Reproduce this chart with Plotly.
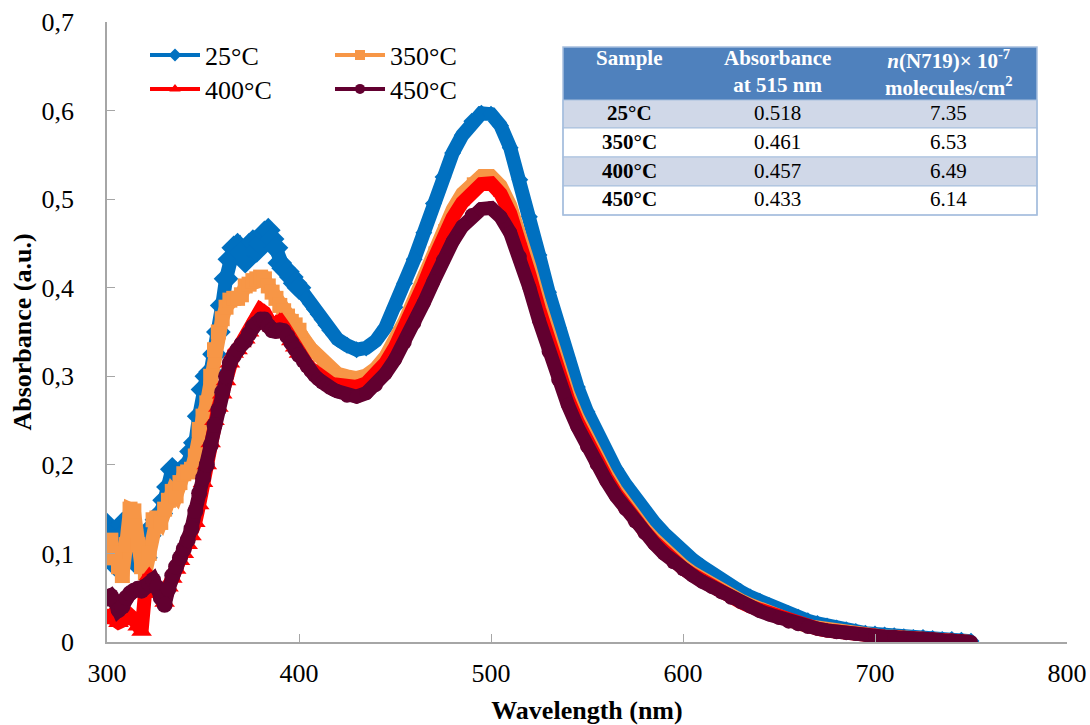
import plotly.graph_objects as go

# Wavelength grid (nm): 2 nm steps through the noisy UV region, 5 nm afterwards
wavelength = list(range(300, 421, 2)) + list(range(425, 751, 5))

abs_25 = [
    0.132, 0.122, 0.088, 0.118, 0.133, 0.125, 0.100, 0.092, 0.100, 0.110,
    0.095, 0.120, 0.130, 0.138, 0.145, 0.160, 0.175, 0.195, 0.190, 0.188,
    0.195, 0.200, 0.215, 0.225, 0.255, 0.285, 0.300, 0.305, 0.325, 0.350,
    0.380, 0.410, 0.432, 0.445, 0.448, 0.440, 0.430, 0.448, 0.452, 0.442,
    0.450, 0.462, 0.465, 0.455, 0.445, 0.428, 0.422, 0.418, 0.412, 0.405,
    0.400, 0.394, 0.388, 0.382, 0.376, 0.370, 0.364, 0.358, 0.352, 0.347,
    0.342,
    0.335, 0.330, 0.332, 0.340, 0.355, 0.378, 0.405, 0.432, 0.462, 0.495,
    0.525, 0.552, 0.572, 0.588, 0.597,
    0.596, 0.583, 0.558, 0.522, 0.480, 0.437, 0.395, 0.355, 0.320, 0.288,
    0.260, 0.236, 0.214, 0.195, 0.178, 0.162, 0.148, 0.135, 0.123, 0.112,
    0.102, 0.093, 0.085, 0.077, 0.070, 0.063, 0.057, 0.051, 0.046, 0.041,
    0.036, 0.032, 0.028, 0.024, 0.021, 0.018, 0.016, 0.014, 0.012, 0.010,
    0.009, 0.008, 0.007, 0.006, 0.005, 0.005, 0.004, 0.003, 0.003, 0.002,
    0.001,
]

abs_350 = [
    0.095, 0.115, 0.100, 0.085, 0.075, 0.110, 0.150, 0.148, 0.110, 0.085,
    0.078, 0.100, 0.138, 0.140, 0.135, 0.150, 0.160, 0.170, 0.165, 0.180,
    0.190, 0.192, 0.195, 0.210, 0.240, 0.255, 0.270, 0.300, 0.330, 0.350,
    0.365, 0.378, 0.386, 0.388, 0.388, 0.392, 0.402, 0.404, 0.408, 0.410,
    0.412, 0.410, 0.402, 0.395, 0.388, 0.380, 0.374, 0.368, 0.362, 0.358,
    0.352, 0.345, 0.338, 0.332, 0.327, 0.322, 0.317, 0.313, 0.309, 0.306,
    0.303,
    0.300, 0.298, 0.301, 0.309, 0.322, 0.340, 0.362, 0.387, 0.413, 0.441,
    0.466, 0.488, 0.506, 0.519, 0.526,
    0.526, 0.515, 0.493, 0.462, 0.424, 0.385, 0.347, 0.312, 0.281, 0.254,
    0.231, 0.210, 0.190, 0.172, 0.156, 0.141, 0.128, 0.116, 0.105, 0.095,
    0.086, 0.078, 0.071, 0.064, 0.058, 0.052, 0.047, 0.042, 0.037, 0.033,
    0.029, 0.025, 0.021, 0.018, 0.016, 0.014, 0.012, 0.010, 0.009, 0.008,
    0.007, 0.006, 0.006, 0.005, 0.004, 0.004, 0.003, 0.002, 0.002, 0.001,
    0.000,
]

abs_400 = [
    0.028, 0.030, 0.025, 0.022, 0.024, 0.028, 0.030, 0.026, 0.018, 0.012,
    0.060, 0.075, 0.055, 0.060, 0.055, 0.045, 0.062, 0.072, 0.082, 0.092,
    0.100, 0.110, 0.120, 0.135, 0.155, 0.180, 0.200, 0.225, 0.250, 0.265,
    0.280, 0.295, 0.315, 0.326, 0.330, 0.338, 0.342, 0.350, 0.358, 0.368,
    0.375, 0.372, 0.362, 0.356, 0.360, 0.362, 0.356, 0.348, 0.340, 0.333,
    0.326, 0.320, 0.314, 0.309, 0.305, 0.301, 0.298, 0.295, 0.293, 0.291,
    0.290,
    0.288, 0.288, 0.292, 0.301, 0.315, 0.333, 0.355, 0.379, 0.404, 0.431,
    0.457, 0.479, 0.496, 0.509, 0.517,
    0.518, 0.506, 0.484, 0.453, 0.415, 0.376, 0.339, 0.305, 0.275, 0.249,
    0.226, 0.205, 0.186, 0.168, 0.152, 0.138, 0.125, 0.113, 0.102, 0.092,
    0.083, 0.076, 0.069, 0.062, 0.056, 0.051, 0.045, 0.040, 0.036, 0.031,
    0.027, 0.024, 0.020, 0.017, 0.015, 0.013, 0.011, 0.010, 0.009, 0.008,
    0.007, 0.006, 0.005, 0.005, 0.004, 0.003, 0.003, 0.002, 0.001, 0.001,
    0.000,
]

abs_450 = [
    0.049, 0.052, 0.046, 0.036, 0.040, 0.050, 0.055, 0.058, 0.060, 0.058,
    0.062, 0.066, 0.070, 0.062, 0.050, 0.042, 0.060, 0.075, 0.085, 0.095,
    0.105, 0.115, 0.128, 0.148, 0.168, 0.185, 0.200, 0.222, 0.245, 0.262,
    0.282, 0.300, 0.315, 0.323, 0.330, 0.336, 0.340, 0.348, 0.356, 0.360,
    0.364, 0.364, 0.357, 0.352, 0.351, 0.352, 0.351, 0.345, 0.338, 0.331,
    0.324, 0.317, 0.311, 0.306, 0.301, 0.297, 0.293, 0.290, 0.287, 0.285,
    0.283,
    0.278, 0.277, 0.281, 0.290, 0.303, 0.319, 0.338, 0.360, 0.383, 0.407,
    0.431, 0.452, 0.469, 0.482, 0.489,
    0.490, 0.480, 0.462, 0.435, 0.400, 0.363, 0.328, 0.296, 0.268, 0.243,
    0.221, 0.201, 0.182, 0.165, 0.150, 0.136, 0.123, 0.111, 0.100, 0.090,
    0.082, 0.075, 0.068, 0.062, 0.056, 0.050, 0.045, 0.040, 0.035, 0.031,
    0.027, 0.023, 0.020, 0.017, 0.015, 0.013, 0.011, 0.010, 0.009, 0.008,
    0.007, 0.006, 0.006, 0.005, 0.004, 0.004, 0.003, 0.002, 0.002, 0.001,
    0.000,
]

series_names = ["25°C", "350°C", "400°C", "450°C"]
series_values = [abs_25, abs_350, abs_400, abs_450]

# Table contents
table_header = ["<b>Sample</b>", "<b>Absorbance<br>at 515 nm</b>",
                "<b><i>n</i>(N719)× 10<sup>-7</sup><br>molecules/cm<sup>2</sup></b>"]
table_samples = ["25°C", "350°C", "400°C", "450°C"]
table_abs_515 = ["0.518", "0.461", "0.457", "0.433"]
table_n_n719 = ["7.35", "6.53", "6.49", "6.14"]

x_tick_values = [300, 400, 500, 600, 700, 800]
x_tick_labels = ["300", "400", "500", "600", "700", "800"]
y_tick_values = [0, 0.1, 0.2, 0.3, 0.4, 0.5, 0.6, 0.7]
y_tick_labels = ["0", "0,1", "0,2", "0,3", "0,4", "0,5", "0,6", "0,7"]

colors = ["#0070C0", "#F79646", "#FF0000", "#620030"]
symbols = ["diamond", "square", "triangle-up", "circle"]
# marker size in the noisy UV part / along the smooth visible band
marker_sizes_uv = [19, 15, 18, 16]
marker_sizes_vis = [13, 10, 13, 14]
legend_ids = ["legend", "legend2", "legend3", "legend4"]

SERIF = "Times New Roman, Liberation Serif, Tinos, serif"
AXIS_GREY = "#A6A6A6"

# Plot-area geometry in pixels (used to place the table in paper coordinates)
FIG_W, FIG_H = 1090, 725
M_L, M_R, M_T, M_B = 107, 23, 22, 83
PLOT_W = FIG_W - M_L - M_R
PLOT_H = FIG_H - M_T - M_B


def px_x(px):
    return (px - M_L) / PLOT_W


def px_y(py):
    return (FIG_H - M_B - py) / PLOT_H


fig = go.Figure()

for name, values, color, sym, s_uv, s_vis in zip(series_names, series_values, colors, symbols,
                                                 marker_sizes_uv, marker_sizes_vis):
    sizes = [s_uv if w <= 400 else s_vis for w in wavelength]
    fig.add_trace(go.Scatter(
        x=wavelength, y=values, mode="lines+markers", name=name,
        line=dict(color=color, width=14),
        marker=dict(symbol=sym, size=sizes, color=color, opacity=1, line=dict(width=0)),
        showlegend=False, hoverinfo="skip",
    ))

# Legend entries with slim line and small marker, one legend box per entry
for name, color, sym, lg in zip(series_names, colors, symbols, legend_ids):
    fig.add_trace(go.Scatter(
        x=[None], y=[None], mode="lines+markers", name=name,
        line=dict(color=color, width=4),
        marker=dict(symbol=sym, size=10, color=color),
        legend=lg, showlegend=True,
    ))

# ---- data table drawn as shapes + text ----
col_edges = [563, 695, 859, 1037]
row_edges = [47, 100, 128, 157, 186, 215]
row_fills = ["#D0D8E8", "white", "#D0D8E8", "white"]
grid_col = "#A7BFDE"

shapes = []
shapes.append(dict(type="rect", xref="paper", yref="paper",
                   x0=px_x(col_edges[0]), x1=px_x(col_edges[-1]),
                   y0=px_y(row_edges[1]), y1=px_y(row_edges[0]),
                   fillcolor="#4F81BD", line=dict(width=0), layer="above"))
for i, fill in enumerate(row_fills):
    shapes.append(dict(type="rect", xref="paper", yref="paper",
                       x0=px_x(col_edges[0]), x1=px_x(col_edges[-1]),
                       y0=px_y(row_edges[i + 2]), y1=px_y(row_edges[i + 1]),
                       fillcolor=fill, line=dict(color=grid_col, width=1.2), layer="above"))
shapes.append(dict(type="rect", xref="paper", yref="paper",
                   x0=px_x(col_edges[0]), x1=px_x(col_edges[-1]),
                   y0=px_y(row_edges[-1]), y1=px_y(row_edges[0]),
                   fillcolor="rgba(0,0,0,0)", line=dict(color=grid_col, width=1.5), layer="above"))

annotations = []
col_centers = [(col_edges[j] + col_edges[j + 1]) / 2 for j in range(3)]
for j, text in enumerate(table_header):
    annotations.append(dict(xref="paper", yref="paper", x=px_x(col_centers[j]), y=px_y(row_edges[0] - 3),
                            xanchor="center", yanchor="top", showarrow=False, align="center",
                            text=text, font=dict(family=SERIF, size=21, color="white")))
table_columns = [["<b>%s</b>" % s for s in table_samples], table_abs_515, table_n_n719]
for j, column in enumerate(table_columns):
    for i, text in enumerate(column):
        yc = (row_edges[i + 1] + row_edges[i + 2]) / 2
        annotations.append(dict(xref="paper", yref="paper", x=px_x(col_centers[j]), y=px_y(yc - 1),
                                xanchor="center", yanchor="middle", showarrow=False,
                                text=text, font=dict(family=SERIF, size=21, color="black")))

legend_style = dict(bgcolor="rgba(0,0,0,0)", itemwidth=50, tracegroupgap=0,
                    xanchor="left", yanchor="middle",
                    font=dict(family=SERIF, size=26, color="black"))

fig.update_layout(
    width=FIG_W, height=FIG_H,
    margin=dict(l=M_L, r=M_R, t=M_T, b=M_B, autoexpand=False),
    paper_bgcolor="white", plot_bgcolor="white",
    font=dict(family=SERIF, size=26, color="black"),
    legend=dict(x=px_x(145), y=px_y(55), **legend_style),
    legend2=dict(x=px_x(330), y=px_y(55), **legend_style),
    legend3=dict(x=px_x(145), y=px_y(89), **legend_style),
    legend4=dict(x=px_x(330), y=px_y(89), **legend_style),
    shapes=shapes,
    annotations=annotations,
)

fig.update_xaxes(
    range=[300, 800], tickmode="array", tickvals=x_tick_values, ticktext=x_tick_labels,
    showline=True, linecolor=AXIS_GREY, linewidth=1.5, mirror=False,
    ticks="inside", ticklen=8, tickcolor=AXIS_GREY, tickwidth=1,
    showgrid=False, zeroline=False, ticklabelstandoff=7, automargin=False,
    tickfont=dict(family=SERIF, size=26),
    title=dict(text="<b>Wavelength (nm)</b>", font=dict(family=SERIF, size=26), standoff=16),
)
fig.update_yaxes(
    range=[0, 0.7], tickmode="array", tickvals=y_tick_values, ticktext=y_tick_labels,
    showline=True, linecolor=AXIS_GREY, linewidth=1.5,
    ticks="inside", ticklen=8, tickcolor=AXIS_GREY, tickwidth=1,
    showgrid=False, zeroline=False, ticklabelstandoff=26, automargin=False,
    tickfont=dict(family=SERIF, size=26),
    title=dict(text="<b>Absorbance (a.u.)</b>", font=dict(family=SERIF, size=26), standoff=2),
)

fig.write_html("out.html")
